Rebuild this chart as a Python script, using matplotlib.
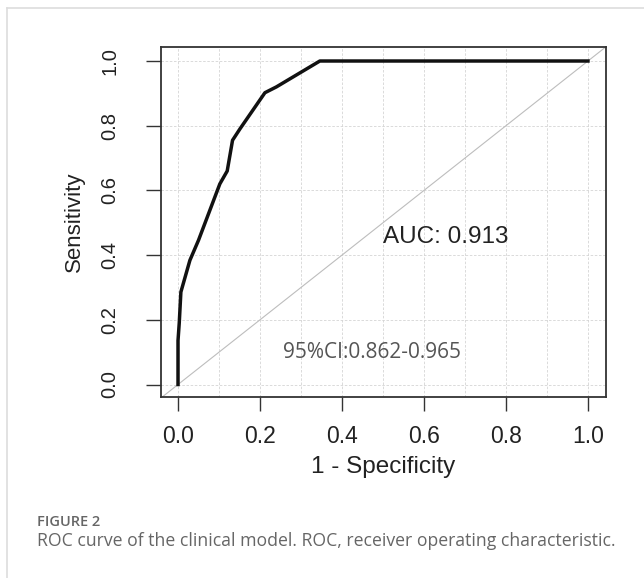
import numpy as np
from matplotlib import pyplot as plt
from matplotlib.lines import Line2D

# ROC points
fpr = [0.0, 0.0, 0.003, 0.007, 0.029, 0.05, 0.102, 0.12, 0.133, 0.151, 0.212, 0.24, 0.346, 1.0]
tpr = [0.0, 0.136, 0.19, 0.286, 0.384, 0.446, 0.62, 0.66, 0.755, 0.79, 0.902, 0.92, 1.0, 1.0]
ticks = [0.0, 0.2, 0.4, 0.6, 0.8, 1.0]
tick_labels = ["0.0", "0.2", "0.4", "0.6", "0.8", "1.0"]
auc_text = "AUC: 0.913"
ci_text = "95%CI:0.862-0.965"
fig_label = "FIGURE 2"
caption = "ROC curve of the clinical model. ROC, receiver operating characteristic."

W, H = 644, 578
fig = plt.figure(figsize=(W / 100, H / 100), dpi=100)
fig.patch.set_facecolor("white")

# light frame around the figure panel (top and left only)
fig.add_artist(Line2D([7 / W, 1], [1 - 8 / H, 1 - 8 / H], color="#dddddd", lw=1.2,
                      transform=fig.transFigure))
fig.add_artist(Line2D([7 / W, 7 / W], [0, 1 - 8 / H], color="#dddddd", lw=1.2,
                      transform=fig.transFigure))

ax = fig.add_axes([161 / W, 1 - 397 / H, (606 - 161) / W, (397 - 47) / H])
ax.set_xlim(-0.0415, 1.044)
ax.set_ylim(-0.0386, 1.0433)

# grid: vertical every 0.1, horizontal every 0.2
for gx in np.arange(0, 1.01, 0.1):
    ax.axvline(gx, color="#d4d4d4", lw=0.6, ls=(0, (3, 2)), zorder=0)
for gy in ticks:
    ax.axhline(gy, color="#d4d4d4", lw=0.6, ls=(0, (3, 2)), zorder=0)

ax.axline((0, 0), (1, 1), color="#bdbdbd", lw=0.8, zorder=1)
ax.plot(fpr, tpr, color="#111111", lw=2.5, solid_joinstyle="round", zorder=3)

ax.text(0.5, 0.437, auc_text, fontsize=17.5, color="#222222",
        family="Liberation Sans", va="baseline", ha="left")
ax.text(0.256, 0.082, ci_text, fontsize=15, color="#555555",
        family="Open Sans", va="baseline", ha="left")

for s in ax.spines.values():
    s.set_color("#333333")
    s.set_linewidth(1.3)

ax.set_xticks(ticks)
ax.set_xticklabels(tick_labels, fontsize=16.5, family="Liberation Sans", color="#222222")
ax.set_yticks(ticks)
ax.set_yticklabels(tick_labels, fontsize=14.5, family="Liberation Sans", color="#222222",
                   rotation=90, va="center")
ax.tick_params(axis="x", length=10, width=1, color="#333333", pad=10)
ax.tick_params(axis="y", length=11, width=1, color="#333333", pad=19)

ax.set_xlabel("1 - Specificity", fontsize=17.5, family="Liberation Sans",
              color="#222222", labelpad=6)
ax.set_ylabel("Sensitivity", fontsize=16, family="Liberation Sans",
              color="#222222", labelpad=11)

fig.text(37 / W, 1 - 526 / H, fig_label, fontsize=10.5, fontweight="semibold",
         family="Open Sans", color="#666666", va="baseline")
fig.text(37 / W, 1 - 546 / H, caption, fontsize=12.7, family="Open Sans",
         color="#666666", va="baseline")

fig.savefig("out.png", dpi=100)
